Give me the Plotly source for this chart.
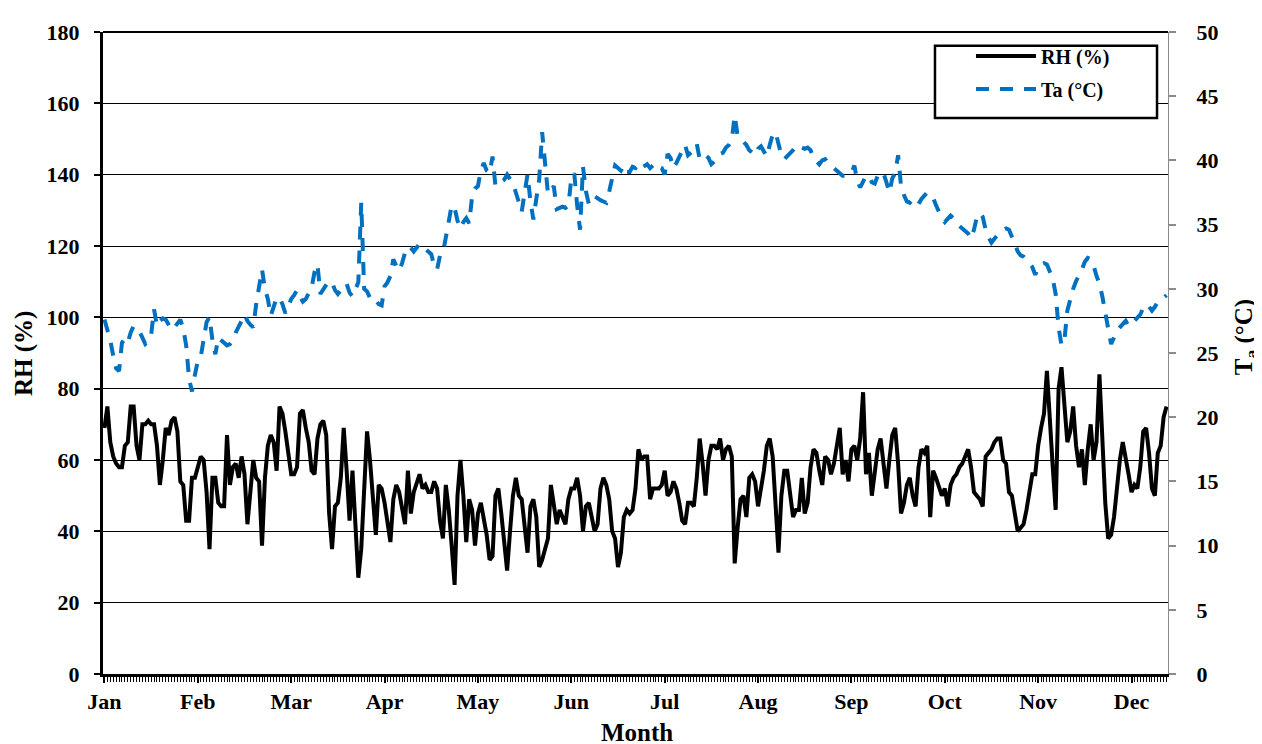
import plotly.graph_objects as go

# ---------------- data ----------------
months = ["Jan", "Feb", "Mar", "Apr", "May", "Jun",
          "Jul", "Aug", "Sep", "Oct", "Nov", "Dec"]
label_step = 32  # category interval between month labels (as in the source chart)

# Relative humidity (%), daily
rh_p1 = [69, 75, 65, 61, 59, 58, 58, 64, 65, 75, 75, 64, 60, 70, 70, 71, 70, 70, 64, 53,
         60, 69, 67, 71, 72, 68, 54, 53, 43, 43, 55, 55, 58, 61, 60, 51, 35, 55, 55, 48,
         47, 47, 67, 53, 58, 59, 55, 61, 56, 42, 51, 60, 55, 54, 36, 55, 64, 67, 65, 57]
rh_p2 = [75, 73, 68, 62, 56, 56, 58, 73, 74, 69, 65, 57, 56, 66, 70, 71, 67, 45, 35, 47,
         48, 55, 69, 57, 43, 57, 42, 27, 35, 52, 68, 60, 49, 39, 53, 52, 48, 42, 37, 49,
         53, 51, 46, 42, 57, 45, 51, 54, 56, 52, 53, 51, 51, 54, 52, 43, 38, 53, 46, 36]
rh_p3 = [25, 50, 60, 50, 37, 49, 46, 36, 45, 48, 44, 39, 32, 33, 50, 52, 45, 38, 29, 40,
         50, 55, 50, 49, 41, 34, 47, 49, 44, 30, 32, 35, 38, 53, 47, 42, 46, 44, 42, 49,
         52, 52, 55, 50, 40, 47, 48, 44, 40, 42, 52, 55, 53, 49, 40, 38, 30, 34, 44, 46]
rh_p4 = [45, 46, 52, 63, 60, 61, 61, 49, 52, 52, 52, 53, 57, 50, 51, 54, 52, 48, 43, 42,
         48, 48, 47, 55, 66, 59, 50, 60, 64, 64, 63, 66, 60, 63, 64, 61, 31, 41, 49, 50,
         44, 55, 56, 54, 47, 52, 57, 64, 66, 61, 49, 34, 50, 57, 57, 51, 44, 46, 46, 55]
rh_p5 = [45, 48, 58, 63, 62, 57, 53, 61, 60, 56, 59, 64, 69, 56, 60, 54, 63, 64, 60, 66,
         79, 56, 62, 50, 56, 63, 66, 59, 52, 60, 67, 69, 59, 45, 48, 53, 55, 50, 47, 58,
         63, 62, 64, 44, 57, 55, 52, 50, 52, 47, 53, 55, 56, 58, 59, 61, 63, 58, 51, 50]
rh_p6 = [49, 47, 61, 62, 63, 65, 66, 66, 60, 59, 51, 50, 45, 40, 41, 42, 46, 52, 56, 56,
         64, 69, 73, 85, 70, 58, 46, 80, 86, 76, 65, 68, 75, 64, 58, 63, 53, 63, 70, 60,
         65, 84, 66, 48, 38, 39, 44, 53, 60, 65, 61, 56, 51, 53, 52, 58, 68, 69, 62, 52,
         50, 62, 64, 72, 75]

# Air temperature (deg C), daily
ta_p1 = [27.6, 26.9, 26.0, 24.8, 23.8, 23.6, 25.8, 26.1, 25.8, 26.6,
         27.1, 26.9, 26.7, 26.2, 25.7, 25.9, 26.4, 28.4, 27.1, 27.5,
         27.7, 27.6, 27.2, 26.8, 27.0, 27.3, 27.6, 26.9, 25.6, 23.0,
         22.0, 23.3, 24.4, 24.7, 26.3, 27.4, 27.8, 26.0, 24.9, 26.2,
         26.0, 25.8, 25.6, 25.7, 26.0, 26.6, 27.0, 27.5, 28.0, 27.5,
         27.2, 27.0, 28.8, 30.2, 31.5, 30.0, 29.2, 27.9, 28.6, 29.3]
ta_p2 = [29.3, 28.8, 28.1, 28.6, 29.2, 29.5, 29.9, 29.4, 29.0, 29.2,
         29.6, 30.1, 31.3, 31.9, 29.6, 30.0, 30.3, 30.6, 30.5, 29.9,
         29.6, 29.9, 30.3, 30.4, 29.7, 29.4, 30.0, 30.5, 36.7, 30.0,
         29.8, 29.3, 29.0, 29.1, 28.8, 28.7, 30.2, 30.5, 31.0, 32.3,
         31.8, 31.4, 32.0, 32.8, 33.3, 33.2, 32.9, 33.2, 33.5, 33.3,
         33.1, 33.0, 32.7, 31.8, 31.5, 32.6, 32.8, 34.0, 35.3, 36.5]
ta_p3 = [36.3, 35.3, 34.7, 35.2, 35.5, 35.1, 37.2, 37.8, 38.0, 39.2,
         39.8, 39.2, 39.0, 40.3, 38.0, 38.2, 38.3, 38.5, 38.9, 38.6,
         38.2, 37.5, 36.6, 36.0, 37.5, 38.9, 36.8, 35.4, 37.0, 38.5,
         42.2, 39.8, 37.4, 37.6, 38.0, 36.2, 36.3, 36.4, 36.3, 36.5,
         38.6, 39.0, 36.5, 34.6, 39.5, 37.6, 36.6, 36.8, 37.2, 37.0,
         36.9, 36.8, 36.7, 37.6, 38.5, 39.6, 39.4, 39.2, 39.6, 39.1]
ta_p4 = [39.1, 39.5, 39.4, 39.7, 39.4, 39.6, 39.7, 39.4, 39.6, 39.8,
         39.5, 39.4, 38.9, 40.5, 40.2, 39.4, 39.8, 40.3, 40.8, 41.2,
         40.4, 40.6, 40.8, 41.3, 40.1, 40.3, 40.4, 40.2, 39.7, 39.9,
         40.2, 40.5, 40.6, 41.0, 41.2, 41.6, 43.5, 41.9, 41.7, 41.5,
         41.2, 40.8, 40.6, 40.4, 40.9, 41.1, 40.7, 40.3, 41.2, 42.0,
         42.2, 41.2, 40.4, 40.1, 40.3, 40.6, 40.8, 41.1, 41.2, 41.0]
ta_p5 = [40.9, 41.0, 40.8, 40.2, 39.9, 39.7, 40.0, 40.1, 39.8, 39.6,
         39.4, 39.1, 38.9, 38.8, 38.8, 38.9, 39.0, 39.6, 38.4, 37.9,
         38.4, 38.8, 38.8, 38.3, 38.2, 38.8, 39.1, 39.0, 38.3, 37.5,
         38.6, 39.0, 40.4, 38.0, 37.3, 36.8, 36.7, 37.0, 36.8, 36.6,
         37.0, 37.2, 37.5, 37.3, 37.1, 36.5, 36.0, 35.5, 35.2, 35.5,
         35.7, 35.5, 35.1, 34.9, 34.7, 34.5, 34.3, 33.9, 34.6, 35.6]
ta_p6 = [35.9, 35.6, 34.6, 34.0, 33.6, 33.9, 34.2, 34.4, 34.6, 34.7,
         34.6, 34.1, 33.5, 32.9, 32.6, 32.5, 32.2, 31.9, 31.7, 31.1,
         31.6, 31.9, 32.0, 31.9, 31.4, 30.8, 29.6, 27.0, 25.6, 26.0,
         28.3, 29.2, 30.0, 30.6, 31.0, 31.5, 32.1, 32.4, 32.3, 31.8,
         31.0, 30.4, 29.4, 28.0, 26.9, 25.7, 26.2, 26.7, 27.0, 27.3,
         27.5, 27.1, 27.2, 27.5, 27.7, 28.0, 28.5, 28.8, 28.6, 28.3,
         28.6, 29.0, 29.2, 29.3, 29.5]

rh = rh_p1 + rh_p2 + rh_p3 + rh_p4 + rh_p5 + rh_p6
ta = ta_p1 + ta_p2 + ta_p3 + ta_p4 + ta_p5 + ta_p6
days = list(range(len(rh)))
month_pos = [i * label_step for i in range(len(months))]

# ---------------- figure ----------------
FONT = "Liberation Serif"
BLUE = "#0070C0"

fig = go.Figure()
fig.add_trace(go.Scatter(
    x=days, y=rh, name="RH (%)", mode="lines", legendgroup="rh",
    line=dict(color="black", width=4)))
fig.add_trace(go.Scatter(
    x=days, y=ta, name="Ta (°C)", mode="lines", yaxis="y2", legendgroup="ta",
    line=dict(color=BLUE, width=4, dash="13px,11px")))

tickfont = dict(family=FONT, size=22, color="black", weight="bold")
titlefont = dict(family=FONT, size=25, color="black", weight="bold")

fig.update_layout(
    width=1262, height=744,
    margin=dict(l=95, r=102, t=16, b=78),
    paper_bgcolor="white", plot_bgcolor="white",
    showlegend=True,
    xaxis=dict(
        range=[-0.5, len(days) - 0.5],
        tickmode="array", tickvals=month_pos, ticktext=months,
        ticks="outside", ticklen=6, tickwidth=1.5, tickcolor="black",
        minor=dict(ticks="outside", ticklen=5, tickwidth=1, tickcolor="black",
                   tick0=0, dtick=1, showgrid=False),
        showline=True, linewidth=3, linecolor="black",
        showgrid=False, zeroline=False, tickfont=tickfont,
    ),
    yaxis=dict(
        range=[0, 180], dtick=20, tick0=0,
        showgrid=True, gridcolor="black", gridwidth=1.3,
        showline=True, linewidth=3, linecolor="black",
        ticks="outside", ticklen=6, tickwidth=1.5, tickcolor="black",
        zeroline=False, tickfont=tickfont, ticklabelstandoff=10,
    ),
    yaxis2=dict(
        range=[0, 50], dtick=5, tick0=0, overlaying="y", side="right",
        showgrid=False, zeroline=False,
        showline=True, linewidth=1, linecolor="#8a8a8a",
        ticks="outside", ticklen=7, tickwidth=1.5, tickcolor="#8a8a8a",
        tickfont=tickfont, ticklabelstandoff=16,
    ),
    legend=dict(
        x=0.815, y=0.993, xanchor="left", yanchor="top",
        bgcolor="rgba(0,0,0,0)", borderwidth=0,
        font=dict(family=FONT, size=20, color="black", weight="bold"),
        itemwidth=60, tracegroupgap=4,
    ),
    shapes=[
        dict(type="line", xref="paper", yref="paper", x0=0, x1=1, y0=1, y1=1,
             line=dict(color="black", width=2), layer="above"),
        dict(type="rect", xref="paper", yref="paper",
             x0=0.7812, x1=0.9897, y0=0.8662, y1=0.9785,
             line=dict(color="black", width=2.5), fillcolor="white", layer="above"),
    ],
    annotations=[
        dict(text="RH (%)", xref="paper", yref="paper", x=-0.0742, y=0.5,
             textangle=-90, showarrow=False, xanchor="center", yanchor="middle",
             font=titlefont),
        dict(text="T<sub>a</sub> (°C)", xref="paper", yref="paper", x=1.0723, y=0.5246,
             textangle=-90, showarrow=False, xanchor="center", yanchor="middle",
             font=titlefont),
        dict(text="Month", xref="paper", yref="paper", x=0.5014, y=-0.0905,
             showarrow=False, xanchor="center", yanchor="middle",
             font=titlefont),
    ],
)

fig.write_html("out.html")
